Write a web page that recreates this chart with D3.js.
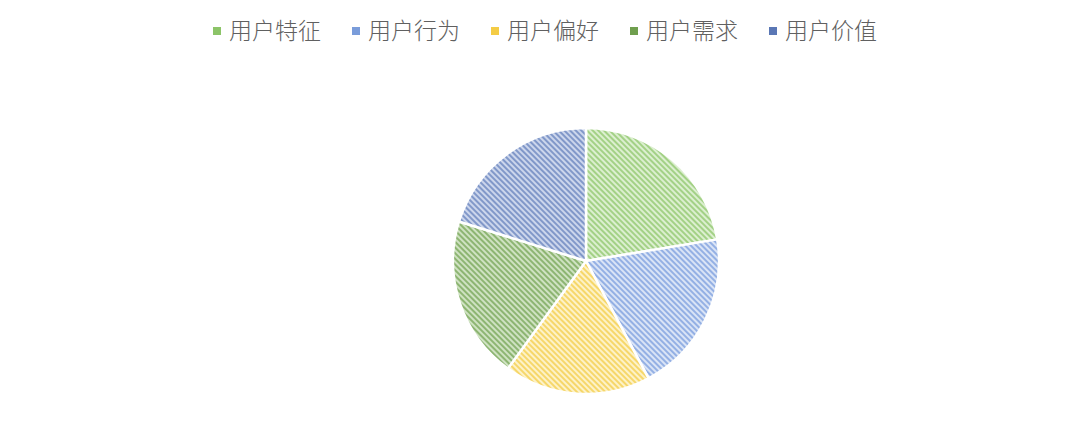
<!DOCTYPE html>
<html><head><meta charset="utf-8">
<script src="https://cdn.jsdelivr.net/npm/d3@7/dist/d3.min.js"></script>
<style>html,body{margin:0;padding:0;background:#fff;}svg{display:block;}</style>
</head><body>
<svg id="chart" width="1080" height="423"></svg>
<script>
const categories = ["用户特征", "用户行为", "用户偏好", "用户需求", "用户价值"];
const values = [22.4, 19.8, 17.8, 19.8, 20.2];
const baseColors = ["#8cc468", "#7a9cda", "#f4cc45", "#6f9f4e", "#5a77b5"];
const stripeColors = ["#a3d186", "#94b0e4", "#f6d76a", "#8db572", "#8198c9"];
const bgColors = ["#dcefd0", "#dae4f6", "#fdf2c8", "#cfe2c2", "#ccd6ec"];

const svg = d3.select("#chart");
const defs = svg.append("defs");
categories.forEach((c, i) => {
  const p = defs.append("pattern").attr("id", "pat" + i)
    .attr("patternUnits", "userSpaceOnUse").attr("width", 4).attr("height", 4)
    .attr("patternTransform", "rotate(-45)");
  p.append("rect").attr("width", 4).attr("height", 4).attr("fill", bgColors[i]);
  p.append("rect").attr("width", 2).attr("height", 4).attr("fill", stripeColors[i]);
});

const cx = 586, cy = 261, r = 133;
const pie = d3.pie().sort(null).value(d => d)(values);
const arc = d3.arc().innerRadius(0).outerRadius(r);
const g = svg.append("g").attr("transform", `translate(${cx},${cy})`);
g.selectAll("path").data(pie).join("path")
  .attr("d", arc)
  .attr("fill", (d, i) => `url(#pat${i})`)
  .attr("stroke", "#fff").attr("stroke-width", 2.5).attr("stroke-linejoin", "round");

// legend
const legend = svg.append("g");
const x0 = 213, step = 139;
const items = legend.selectAll("g").data(categories).join("g")
  .attr("transform", (d, i) => `translate(${x0 + i * step},31)`);
items.append("rect").attr("x", 0).attr("y", -4).attr("width", 8).attr("height", 8)
  .attr("fill", (d, i) => baseColors[i]);
items.append("text").attr("x", 16).attr("y", 0).attr("dy", "0.36em")
  .attr("font-family", "'Noto Sans CJK SC', sans-serif").attr("font-weight", 300)
  .attr("font-size", 23).attr("fill", "#606060").text(d => d);
</script>
</body></html>
